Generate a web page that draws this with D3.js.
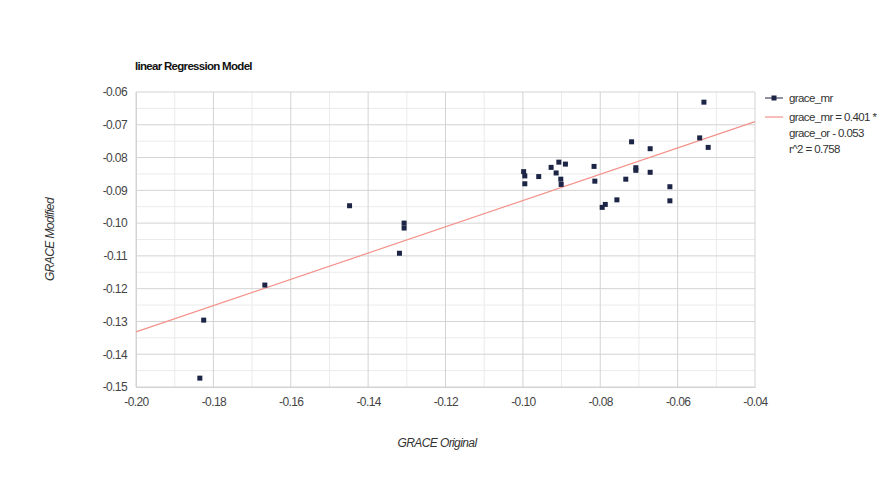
<!DOCTYPE html>
<html>
<head>
<meta charset="utf-8">
<script src="https://cdn.jsdelivr.net/npm/d3@7"></script>
<style>
  body { margin: 0; background: #fff; }
  svg text { font-family: "Liberation Sans", Arial, sans-serif; letter-spacing: -0.6px; }
</style>
</head>
<body>
<div id="chart"></div>
<script>
// data
const graceOriginal = [
  -0.0998, -0.0995, -0.0995, -0.0959, -0.0927, -0.0914, -0.0907, -0.0890, -0.0902, -0.0901,
  -0.0816, -0.0814, -0.0719, -0.0671, -0.0708, -0.0708, -0.0671, -0.0734, -0.0757, -0.0787,
  -0.0795, -0.0620, -0.0620, -0.0543, -0.0521, -0.0532, -0.1448, -0.1307, -0.1307, -0.1319,
  -0.1667, -0.1825, -0.1835
];
const graceModified = [
  -0.0843, -0.0856, -0.0880, -0.0858, -0.0830, -0.0847, -0.0814, -0.0820, -0.0866, -0.0882,
  -0.0827, -0.0872, -0.0752, -0.0773, -0.0831, -0.0839, -0.0845, -0.0866, -0.0929, -0.0943,
  -0.0952, -0.0889, -0.0932, -0.0740, -0.0769, -0.0631, -0.0947, -0.1000, -0.1015, -0.1092,
  -0.1189, -0.1296, -0.1473
];
const slope = 0.401;
const intercept = -0.053;
const xTicks = [-0.20, -0.18, -0.16, -0.14, -0.12, -0.10, -0.08, -0.06, -0.04];
const xMinor = [-0.19, -0.17, -0.15, -0.13, -0.11, -0.09, -0.07, -0.05];
const yTicks = [-0.06, -0.07, -0.08, -0.09, -0.10, -0.11, -0.12, -0.13, -0.14, -0.15];
const yMinor = [-0.065, -0.075, -0.085, -0.095, -0.105, -0.115, -0.125, -0.135, -0.145];
const legendLines = ["grace_mr = 0.401 *", "grace_or - 0.053", "r^2 = 0.758"];

const W = 890, H = 480;
const margin = {top: 92, right: 135, bottom: 93, left: 136};
const width = W - margin.left - margin.right;
const height = H - margin.top - margin.bottom;

const svg = d3.select("#chart").append("svg")
    .attr("width", W)
    .attr("height", H);

const g = svg.append("g")
    .attr("transform", "translate(" + margin.left + "," + margin.top + ")");

// scales
const x = d3.scaleLinear().domain([-0.20, -0.04]).range([0, width]);
const y = d3.scaleLinear().domain([-0.15, -0.06]).range([height, 0]);

// minor grid
g.append("g").selectAll("line")
    .data(yMinor)
    .enter().append("line")
    .attr("x1", 0).attr("x2", width)
    .attr("y1", d => y(d)).attr("y2", d => y(d))
    .attr("stroke", "#ebebeb");
g.append("g").selectAll("line")
    .data(xMinor)
    .enter().append("line")
    .attr("y1", 0).attr("y2", height)
    .attr("x1", d => x(d)).attr("x2", d => x(d))
    .attr("stroke", "#ebebeb");

// major grid
g.append("g").selectAll("line")
    .data(yTicks)
    .enter().append("line")
    .attr("x1", 0).attr("x2", width)
    .attr("y1", d => y(d)).attr("y2", d => y(d))
    .attr("stroke", "#d3d3d3");
g.append("g").selectAll("line")
    .data(xTicks)
    .enter().append("line")
    .attr("y1", 0).attr("y2", height)
    .attr("x1", d => x(d)).attr("x2", d => x(d))
    .attr("stroke", "#d3d3d3");

// axes (plain hyphen minus like the original)
const fmt = d => d.toFixed(2);
const yAxis = d3.axisLeft(y).tickValues(yTicks).tickFormat(fmt).tickSize(0).tickPadding(9);
const xAxis = d3.axisBottom(x).tickValues(xTicks).tickFormat(fmt).tickSize(0).tickPadding(10);

const yG = g.append("g").call(yAxis);
const xG = g.append("g").attr("transform", "translate(0," + height + ")").call(xAxis);
[yG, xG].forEach(a => {
    a.select(".domain").attr("stroke", "#d3d3d3");
    a.selectAll("text").attr("fill", "#444").style("font-size", "12px");
});

// regression line
const xDom = x.domain();
g.append("line")
    .attr("x1", x(xDom[0])).attr("y1", y(slope * xDom[0] + intercept))
    .attr("x2", x(xDom[1])).attr("y2", y(slope * xDom[1] + intercept))
    .attr("stroke", "#f4928a")
    .attr("stroke-width", 1.2);

// points
g.append("g").selectAll("rect")
    .data(graceOriginal.map((d, i) => [d, graceModified[i]]))
    .enter().append("rect")
    .attr("x", d => x(d[0]) - 2.5)
    .attr("y", d => y(d[1]) - 2.5)
    .attr("width", 5)
    .attr("height", 5)
    .attr("fill", "#1c2545");

// title
svg.append("text")
    .attr("x", 135).attr("y", 70)
    .style("font-size", "11.5px")
    .style("font-weight", "bold")
    .style("letter-spacing", "-0.7px")
    .attr("fill", "#111")
    .text("linear Regression Model");

// axis titles
svg.append("text")
    .attr("transform", "translate(54," + (margin.top + height / 2) + ") rotate(-90)")
    .attr("text-anchor", "middle")
    .style("font-size", "12px")
    .style("font-style", "italic")
    .attr("fill", "#333")
    .text("GRACE Modified");

svg.append("text")
    .attr("x", 437).attr("y", 447)
    .attr("text-anchor", "middle")
    .style("font-size", "12px")
    .style("font-style", "italic")
    .attr("fill", "#333")
    .text("GRACE Original");

// legend
const leg = svg.append("g").attr("transform", "translate(765,98)");
leg.append("line").attr("x1", 0).attr("x2", 18).attr("y1", 0).attr("y2", 0)
    .attr("stroke", "#1c2545").attr("stroke-width", 1);
leg.append("rect").attr("x", 6.5).attr("y", -2.5).attr("width", 5).attr("height", 5).attr("fill", "#1c2545");
leg.append("text").attr("x", 24).attr("y", 4).style("font-size", "11.5px").attr("fill", "#333").text("grace_mr");

leg.append("line").attr("x1", 0).attr("x2", 18).attr("y1", 19).attr("y2", 19)
    .attr("stroke", "#f4928a").attr("stroke-width", 1.2);
leg.selectAll(".eq")
    .data(legendLines)
    .enter().append("text")
    .attr("class", "eq")
    .attr("x", 24)
    .attr("y", (d, i) => 23 + i * 16)
    .style("font-size", "11.5px")
    .attr("fill", "#333")
    .text(d => d);
</script>
</body>
</html>
